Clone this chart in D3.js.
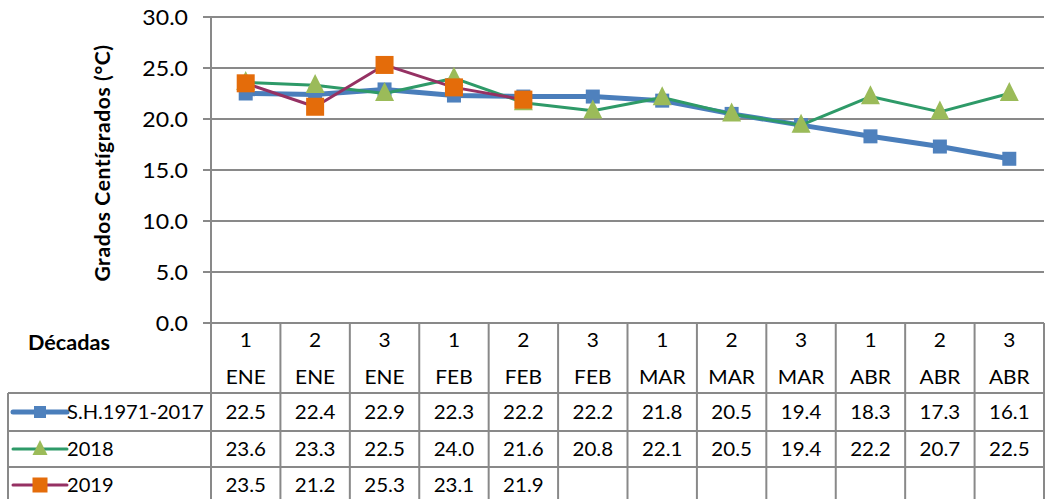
<!DOCTYPE html>
<html>
<head>
<meta charset="utf-8">
<script src="https://cdn.jsdelivr.net/npm/d3@7"></script>
<style>
  html, body { margin: 0; padding: 0; background: #fff; }
  svg { display: block; }
  text { font-family: Lato, "Open Sans", sans-serif; fill: #000; }
</style>
</head>
<body>
<svg id="chart" width="1051" height="499"></svg>
<script>
const decadas = ["1","2","3","1","2","3","1","2","3","1","2","3"];
const meses = ["ENE","ENE","ENE","FEB","FEB","FEB","MAR","MAR","MAR","ABR","ABR","ABR"];
const seriesNames = ["S.H.1971-2017", "2018", "2019"];
const sh = [22.5, 22.4, 22.9, 22.3, 22.2, 22.2, 21.8, 20.5, 19.4, 18.3, 17.3, 16.1];
const y2018 = [23.6, 23.3, 22.5, 24.0, 21.6, 20.8, 22.1, 20.5, 19.4, 22.2, 20.7, 22.5];
const y2019 = [23.5, 21.2, 25.3, 23.1, 21.9, null, null, null, null, null, null, null];
const yTicks = [0, 5, 10, 15, 20, 25, 30];
const yLabel = "Grados Centígrados  (°C)";
const tableTitle = "Décadas";

const styles = [
  { line: "#4A7EBB", lw: 5, marker: "square", fill: "#4F81BD", size: 14 },
  { line: "#2E9A68", lw: 3, marker: "triangle", fill: "#9BBB59", size: 19 },
  { line: "#953163", lw: 3, marker: "square", fill: "#E46C0A", size: 18 }
];
const seriesData = [sh, y2018, y2019];

const svg = d3.select("#chart");
const pLeft = 211, pRight = 1044, pTop = 17, pBottom = 323;
const x = d3.scaleBand().domain(d3.range(decadas.length)).range([pLeft, pRight]).padding(0);
const y = d3.scaleLinear().domain([0, 30]).range([pBottom, pTop]);
const gridColor = "#898989";

svg.append("g").selectAll("line").data(yTicks).join("line")
  .attr("x1", pLeft - 8).attr("x2", pRight)
  .attr("y1", d => y(d)).attr("y2", d => y(d))
  .attr("stroke", gridColor).attr("stroke-width", 2);

svg.append("line").attr("x1", pLeft).attr("x2", pLeft).attr("y1", pTop).attr("y2", 499)
  .attr("stroke", gridColor).attr("stroke-width", 2);

svg.append("g").selectAll("text").data(yTicks).join("text")
  .attr("transform", d => `translate(188,${y(d) + 7.5}) scale(1.1,1)`)
  .attr("text-anchor", "end").attr("font-size", 21)
  .text(d => d3.format(".1f")(d));

svg.append("text")
  .attr("transform", "translate(110,163) rotate(-90)")
  .attr("text-anchor", "middle").attr("font-size", 21).attr("font-weight", "bold")
  .attr("letter-spacing", 0.6)
  .text(yLabel);

const rowTops = [393, 431, 467, 505];
const tbl = svg.append("g");
tbl.selectAll("line.v").data(d3.range(decadas.length + 1)).join("line")
  .attr("class", "v")
  .attr("x1", i => i < decadas.length ? x(i) : pRight)
  .attr("x2", i => i < decadas.length ? x(i) : pRight)
  .attr("y1", pBottom).attr("y2", 499)
  .attr("stroke", gridColor).attr("stroke-width", 2);
tbl.selectAll("line.h").data(rowTops.slice(0, 3)).join("line")
  .attr("class", "h")
  .attr("x1", 8).attr("x2", pRight)
  .attr("y1", d => d).attr("y2", d => d)
  .attr("stroke", gridColor).attr("stroke-width", 2);
tbl.append("line").attr("x1", 8).attr("x2", 8).attr("y1", 393).attr("y2", 499)
  .attr("stroke", gridColor).attr("stroke-width", 2);

const cx = i => x(i) + x.bandwidth() / 2;
tbl.selectAll("text.dec").data(decadas).join("text")
  .attr("class", "dec")
  .attr("transform", (d, i) => `translate(${cx(i)},347) scale(1.1,1)`)
  .attr("text-anchor", "middle").attr("font-size", 19).text(d => d);
tbl.selectAll("text.mes").data(meses).join("text")
  .attr("class", "mes")
  .attr("transform", (d, i) => `translate(${cx(i)},384) scale(1.1,1)`)
  .attr("text-anchor", "middle").attr("font-size", 19).text(d => d);
tbl.append("text")
  .attr("transform", "translate(69,350) scale(1.08,1)")
  .attr("text-anchor", "middle").attr("font-size", 20).attr("font-weight", "bold")
  .text(tableTitle);

function drawMarker(g, st, px, py, size) {
  if (st.marker === "square") {
    g.append("rect").attr("x", px - size / 2).attr("y", py - size / 2)
      .attr("width", size).attr("height", size).attr("fill", st.fill);
  } else {
    const h = size;
    g.append("path")
      .attr("d", `M${px},${py - h * 0.6}L${px + size / 2},${py + h * 0.4}L${px - size / 2},${py + h * 0.4}Z`)
      .attr("fill", st.fill);
  }
}

seriesData.forEach((vals, s) => {
  const rowMid = (rowTops[s] + Math.min(rowTops[s + 1], 503)) / 2;
  const g = tbl.append("g");
  g.selectAll("text").data(vals).join("text")
    .attr("transform", (d, i) => `translate(${cx(i)},${rowMid + 7}) scale(1.08,1)`)
    .attr("text-anchor", "middle").attr("font-size", 19)
    .text(d => d == null ? "" : d3.format(".1f")(d));
  const st = styles[s];
  g.append("line").attr("x1", 13).attr("x2", 67).attr("y1", rowMid).attr("y2", rowMid)
    .attr("stroke", st.line).attr("stroke-width", st.lw).attr("stroke-linecap", "round");
  drawMarker(g, st, 40, rowMid, s === 0 ? 12 : 15);
  g.append("text")
    .attr("transform", `translate(67,${rowMid + 7}) scale(1.06,1)`)
    .attr("font-size", 19).text(seriesNames[s]);
});

const line = d3.line().defined(d => d.v != null).x(d => cx(d.i)).y(d => y(d.v));
seriesData.forEach((vals, s) => {
  const st = styles[s];
  const pts = vals.map((v, i) => ({ v, i }));
  const g = svg.append("g");
  g.append("path").attr("d", line(pts)).attr("fill", "none")
    .attr("stroke", st.line).attr("stroke-width", st.lw).attr("stroke-linejoin", "round");
  pts.filter(p => p.v != null).forEach(p => drawMarker(g, st, cx(p.i), y(p.v), st.size));
});
</script>
</body>
</html>
